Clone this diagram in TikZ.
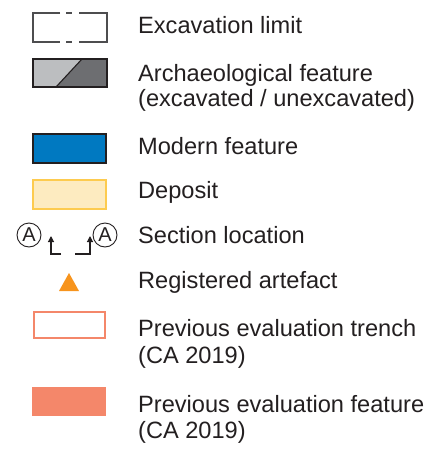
\documentclass[tikz,border=0pt]{standalone}
\usepackage{fontspec}
\setmainfont{Liberation Sans}
\usetikzlibrary{arrows.meta}
\definecolor{txt}{HTML}{231F20}
\definecolor{limitgray}{HTML}{4D4D4F}
\definecolor{featlight}{HTML}{BCBEC0}
\definecolor{featdark}{HTML}{6D6E71}
\definecolor{modernblue}{HTML}{0079C1}
\definecolor{depfill}{HTML}{FDEBC0}
\definecolor{depline}{HTML}{FDCB4F}
\definecolor{artefact}{HTML}{F7941D}
\definecolor{prevcol}{HTML}{F4876A}
\tikzset{
  label text/.style={anchor=base west, inner sep=0pt, text=txt,
    font=\fontsize{23.6pt}{26pt}\selectfont},
  sec mark/.style={circle, draw=txt, line width=0.9pt, minimum size=24pt,
    inner sep=0pt, text=txt, font=\fontsize{20pt}{20pt}\selectfont},
  sec arrow/.style={draw=txt, line width=1.1pt, -{Triangle[length=6pt,width=6pt]}},
}
\begin{document}
\begin{tikzpicture}[x=1pt,y=-1pt]
\useasboundingbox (0,0) rectangle (446,450);

% excavation limit: rectangle with a broken top and bottom edge
\draw[limitgray, line width=1.8pt] (60,13) -- (33,13) -- (33,42) -- (60,42);
\draw[limitgray, line width=1.8pt] (66,13) -- (72,13) (66,42) -- (72,42);
\draw[limitgray, line width=1.8pt] (79,13) -- (107,13) -- (107,42) -- (79,42);
\node[label text] (tlimit) at (138,33) {Excavation limit};

% archaeological feature: excavated / unexcavated halves
\fill[featlight] (33,59) -- (82,59) -- (56,87) -- (33,87) -- cycle;
\fill[featdark] (82,59) -- (107,59) -- (107,87) -- (56,87) -- cycle;
\draw[txt, line width=1.1pt] (82,59) -- (56,87);
\draw[txt, line width=1.6pt] (33,59) rectangle (107,87);
\node[label text] (tarch1) at (138,81) {Archaeological feature};
\node[label text] (tarch2) at (138,106) {(excavated / unexcavated)};

% modern feature
\draw[txt, fill=modernblue, line width=1.6pt] (33,134) rectangle (106,163);
\node[label text] (tmodern) at (138,154) {Modern feature};

% deposit
\draw[depline, fill=depfill, line width=1.3pt] (33,180) rectangle (106,209);
\node[label text] (tdeposit) at (138,198) {Deposit};

% section location
\node[sec mark] (secA) at (29,235) {A};
\node[sec mark] (secB) at (105,235) {A};
\coordinate (la) at (61,254);
\coordinate (lc) at (51,254);
\coordinate (lt) at (51,236);
\coordinate (ra) at (75,254);
\coordinate (rc) at (90,254);
\coordinate (rt) at (90,236);
\draw[sec arrow] (la) -- (lc) -- (lt);
\draw[sec arrow] (ra) -- (rc) -- (rt);
\node[label text] (tsection) at (138,243) {Section location};

% registered artefact
\fill[artefact] (59,291) -- (79,291) -- (69,273) -- cycle;
\node[label text] (tartefact) at (138,288) {Registered artefact};

% previous evaluation trench
\draw[prevcol, line width=2.4pt] (34,312) rectangle (105,338);
\node[label text] (ttrench1) at (138,336) {Previous evaluation trench};
\node[label text] (ttrench2) at (138,363) {(CA 2019)};

% previous evaluation feature
\fill[prevcol] (32,387) rectangle (106,416);
\node[label text] (tfeat1) at (138,412) {Previous evaluation feature};
\node[label text] (tfeat2) at (138,438) {(CA 2019)};
\end{tikzpicture}
\end{document}
